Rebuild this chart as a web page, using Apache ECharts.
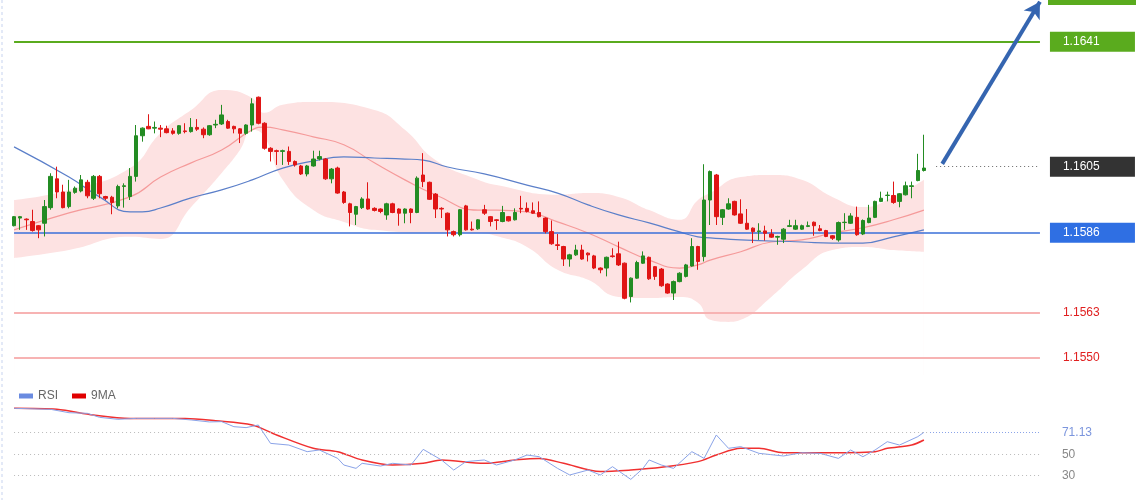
<!DOCTYPE html>
<html><head><meta charset="utf-8">
<script src="https://cdn.jsdelivr.net/npm/echarts@6/dist/echarts.min.js"></script>
<style>html,body{margin:0;padding:0;background:#fff}#c{width:1140px;height:500px}</style>
</head><body><div id="c"></div>
<script>
// candles: [open, close, low, high]
const candles = [
[1.15880,1.15906,1.15878,1.15908],[1.15902,1.15906,1.15868,1.15908],[1.15899,1.15897,1.15868,1.15901],[1.15892,1.15866,1.15863,1.15926],[1.15880,1.15868,1.15844,1.15882],
[1.15887,1.15935,1.15849,1.15954],[1.15932,1.16022,1.15926,1.16031],[1.16015,1.15977,1.15959,1.16050],[1.15977,1.15932,1.15930,1.15998],[1.15935,1.15977,1.15930,1.16012],
[1.15976,1.15988,1.15972,1.15993],[1.15980,1.16012,1.15976,1.16026],[1.16005,1.15966,1.15959,1.16012],[1.15959,1.16022,1.15954,1.16026],[1.16022,1.15972,1.15959,1.16026],
[1.15964,1.15959,1.15954,1.15966],[1.15962,1.15947,1.15913,1.15966],[1.15937,1.15993,1.15930,1.15998],[1.15993,1.15995,1.15932,1.16002],[1.15964,1.16022,1.15954,1.16046],
[1.16022,1.16139,1.16007,1.16170],[1.16139,1.16161,1.16122,1.16163],[1.16166,1.16159,1.16158,1.16201],[1.16161,1.16163,1.16146,1.16180],[1.16161,1.16158,1.16135,1.16170],
[1.16159,1.16148,1.16146,1.16168],[1.16153,1.16146,1.16142,1.16161],[1.16146,1.16168,1.16142,1.16170],[1.16153,1.16151,1.16146,1.16175],[1.16151,1.16163,1.16148,1.16190],
[1.16163,1.16158,1.16153,1.16187],[1.16158,1.16142,1.16132,1.16163],[1.16142,1.16168,1.16139,1.16170],[1.16170,1.16172,1.16161,1.16185],[1.16173,1.16199,1.16170,1.16228],
[1.16180,1.16161,1.16159,1.16185],[1.16166,1.16159,1.16146,1.16168],[1.16159,1.16146,1.16118,1.16161],[1.16146,1.16170,1.16142,1.16172],[1.16170,1.16231,1.16151,1.16247],
[1.16250,1.16175,1.16172,1.16252],[1.16175,1.16103,1.16099,1.16178],[1.16103,1.16094,1.16065,1.16106],[1.16096,1.16094,1.16055,1.16099],[1.16094,1.16096,1.16055,1.16099],
[1.16094,1.16065,1.16055,1.16108],[1.16065,1.16055,1.16050,1.16068],[1.16052,1.16029,1.16026,1.16055],[1.16029,1.16052,1.16022,1.16055],[1.16052,1.16072,1.16050,1.16096],
[1.16072,1.16079,1.16068,1.16096],[1.16072,1.16015,1.16012,1.16075],[1.16015,1.16043,1.16002,1.16046],[1.16046,1.15974,1.15972,1.16050],[1.15977,1.15947,1.15943,1.15980],
[1.15943,1.15918,1.15878,1.15946],[1.15913,1.15935,1.15882,1.15937],[1.15932,1.15957,1.15928,1.15962],[1.15957,1.15928,1.15926,1.16005],[1.15930,1.15924,1.15921,1.15933],
[1.15928,1.15921,1.15916,1.15930],[1.15911,1.15943,1.15897,1.15946],[1.15943,1.15918,1.15916,1.15946],[1.15928,1.15916,1.15880,1.15930],[1.15916,1.15928,1.15887,1.15930],
[1.15928,1.15918,1.15887,1.15930],[1.15918,1.16017,1.15916,1.16022],[1.16026,1.16007,1.15991,1.16089],[1.16005,1.15956,1.15954,1.16007],[1.15971,1.15928,1.15902,1.15974],
[1.15930,1.15928,1.15902,1.15933],[1.15916,1.15868,1.15849,1.15918],[1.15863,1.15854,1.15849,1.15866],[1.15854,1.15926,1.15849,1.15928],[1.15937,1.15868,1.15866,1.15940],
[1.15870,1.15868,1.15866,1.15892],[1.15871,1.15897,1.15868,1.15899],[1.15926,1.15916,1.15911,1.15940],[1.15906,1.15892,1.15878,1.15908],[1.15897,1.15895,1.15868,1.15899],
[1.15892,1.15918,1.15890,1.15937],[1.15906,1.15894,1.15892,1.15908],[1.15897,1.15918,1.15895,1.15930],[1.15930,1.15928,1.15916,1.15966],[1.15930,1.15921,1.15918,1.15947],
[1.15923,1.15916,1.15914,1.15947],[1.15918,1.15906,1.15904,1.15950],[1.15902,1.15863,1.15858,1.15904],[1.15863,1.15828,1.15825,1.15895],[1.15825,1.15823,1.15810,1.15856],
[1.15820,1.15784,1.15764,1.15822],[1.15784,1.15796,1.15762,1.15799],[1.15796,1.15810,1.15793,1.15825],[1.15810,1.15784,1.15782,1.15825],[1.15801,1.15796,1.15777,1.15803],
[1.15793,1.15758,1.15755,1.15796],[1.15758,1.15753,1.15743,1.15760],[1.15758,1.15789,1.15734,1.15791],[1.15793,1.15791,1.15788,1.15815],[1.15799,1.15767,1.15764,1.15834],
[1.15772,1.15671,1.15668,1.15774],[1.15676,1.15729,1.15659,1.15731],[1.15729,1.15774,1.15727,1.15779],[1.15772,1.15793,1.15770,1.15806],[1.15789,1.15727,1.15724,1.15791],
[1.15762,1.15734,1.15724,1.15764],[1.15755,1.15707,1.15704,1.15758],[1.15712,1.15686,1.15684,1.15714],[1.15686,1.15719,1.15666,1.15722],[1.15719,1.15743,1.15717,1.15746],
[1.15734,1.15767,1.15731,1.15770],[1.15764,1.15820,1.15762,1.15844],[1.15820,1.15777,1.15753,1.15822],[1.15791,1.15954,1.15777,1.16057],[1.15954,1.16036,1.15882,1.16039],
[1.16026,1.15906,1.15882,1.16029],[1.15904,1.15926,1.15882,1.15928],[1.15928,1.15943,1.15926,1.15959],[1.15950,1.15911,1.15909,1.15952],[1.15914,1.15887,1.15885,1.15956],
[1.15887,1.15870,1.15868,1.15928],[1.15873,1.15863,1.15830,1.15875],[1.15863,1.15865,1.15839,1.15887],[1.15865,1.15858,1.15837,1.15880],[1.15856,1.15847,1.15845,1.15870],
[1.15847,1.15849,1.15825,1.15851],[1.15841,1.15870,1.15830,1.15873],[1.15878,1.15880,1.15876,1.15897],[1.15870,1.15880,1.15868,1.15897],[1.15870,1.15880,1.15868,1.15883],
[1.15878,1.15880,1.15876,1.15892],[1.15890,1.15880,1.15851,1.15892],[1.15871,1.15866,1.15864,1.15882],[1.15866,1.15849,1.15847,1.15868],[1.15851,1.15844,1.15839,1.15853],
[1.15839,1.15889,1.15834,1.15892],[1.15889,1.15890,1.15868,1.15916],[1.15887,1.15908,1.15885,1.15916],[1.15904,1.15854,1.15851,1.15935],[1.15856,1.15895,1.15853,1.15898],
[1.15889,1.15902,1.15887,1.15940],[1.15904,1.15950,1.15902,1.15952],[1.15950,1.15959,1.15948,1.15978],[1.15967,1.15968,1.15950,1.15978],[1.15967,1.15947,1.15943,1.16007],
[1.15950,1.15972,1.15933,1.15974],[1.15969,1.15995,1.15967,1.16007],[1.15993,1.15995,1.15959,1.16007],[1.16010,1.16039,1.16008,1.16087],[1.16039,1.16046,1.16036,1.16142]
];
const bandUpper = [[0,1.15954],[9,1.15983],[19,1.16046],[24,1.16147],[29,1.16213],[34,1.16271],[39,1.16248],[41,1.16205],[44,1.16228],[49,1.16236],[59,1.16213],[64,1.16156],[69,1.16069],[76,1.16012],[79,1.15997],[89,1.15969],[94,1.15974],[99,1.15963],[104,1.15925],[109,1.15897],[112,1.15954],[114,1.15974],[119,1.16020],[124,1.16026],[129,1.16012],[134,1.15963],[139,1.15934],[144,1.15963],[149,1.16012]];
const bandLower = [[0,1.15787],[9,1.15810],[19,1.15848],[24,1.15842],[29,1.15934],[34,1.16032],[37,1.16098],[39,1.16156],[41,1.16136],[44,1.16012],[49,1.15925],[54,1.15891],[59,1.15868],[69,1.15859],[76,1.15859],[79,1.15850],[84,1.15819],[89,1.15753],[94,1.15724],[99,1.15675],[104,1.15672],[109,1.15675],[112,1.15658],[114,1.15609],[117,1.15603],[119,1.15609],[124,1.15675],[129,1.15753],[134,1.15810],[139,1.15819],[144,1.15810],[149,1.15805]];
const maRed = [[0,1.15868],[9,1.15917],[19,1.15963],[24,1.16020],[29,1.16061],[34,1.16098],[39,1.16156],[41,1.16164],[44,1.16156],[49,1.16136],[54,1.16113],[59,1.16061],[64,1.16012],[69,1.15969],[76,1.15925],[79,1.15925],[84,1.15920],[89,1.15891],[94,1.15859],[99,1.15819],[104,1.15781],[109,1.15758],[112,1.15767],[114,1.15781],[119,1.15805],[124,1.15833],[129,1.15839],[134,1.15859],[139,1.15874],[144,1.15897],[149,1.15925]];
const maBlue = [[0,1.16107],[9,1.16020],[14,1.15963],[19,1.15920],[21,1.15920],[24,1.15931],[29,1.15960],[34,1.15983],[39,1.16012],[44,1.16046],[49,1.16066],[54,1.16078],[59,1.16075],[64,1.16072],[67,1.16069],[71,1.16049],[77,1.16029],[84,1.15997],[89,1.15974],[94,1.15940],[99,1.15911],[104,1.15888],[109,1.15862],[112,1.15848],[114,1.15845],[119,1.15839],[129,1.15833],[134,1.15830],[139,1.15830],[144,1.15848],[149,1.15868]];
const rsi = [[0,94],[6,93],[9,89.8],[12,89.2],[14,85.4],[17,83.5],[20,84.4],[23,84.4],[26,84.4],[29,82.9],[32,81],[34,81.3],[36,76.5],[38,75.6],[40,78.1],[42,60.6],[45,59],[48,52.7],[50,54.3],[53,46.3],[54,40],[56,36.8],[57,41.6],[60,39],[62,41.6],[65,40],[67,54.9],[70,44.8],[72,35.2],[74,43.2],[77,44.8],[79,40],[82,44.8],[84,49.5],[86,47.9],[89,36.8],[91,30.5],[94,35.2],[96,30.5],[98,38.4],[101,26.3],[103,36.8],[104,44.8],[106,40],[108,36.8],[111,52.7],[113,46.3],[115,68.6],[117,55.9],[119,57.5],[122,51.1],[126,48.6],[129,51.7],[132,51.1],[135,46.3],[137,54.3],[139,47.9],[141,54.3],[143,62.2],[145,59],[148,67],[149,71.13]];
const rsiMa = [[0,94],[7,93],[13,87.6],[19,84.4],[28,84.4],[33,82.2],[39,78.1],[43,68.6],[49,55.9],[53,52.7],[57,44.8],[62,40],[67,41.6],[70,44.8],[77,41.6],[82,44.8],[86,46.3],[90,41.6],[96,33.7],[101,35.2],[106,37.8],[112,43.2],[115,49.5],[119,55.9],[122,55.9],[126,51.7],[132,51.7],[141,52.7],[143,55.9],[147,59],[149,63.8]];
const levels = [1.1641, 1.1586, 1.1563, 1.1550];
const lastPrice = 1.1605;
const rsiLast = 71.13;
const rsiTicks = [50, 30];
const categories = Array.from({length:169}, (_, i) => String(i));

const boxLabel = (txt, bg, fg) => ({show:true, position:'end', distance:10, formatter: txt, color:fg, backgroundColor:bg, fontSize:12, fontFamily:'Liberation Sans', width:72, padding:[4,0,4,13], align:'left'});
const rsiLabel = (txt, col) => ({show:true, position:'end', distance:22, formatter:txt, color:col, fontSize:12, fontFamily:'Liberation Sans'});
const hLine = (v, color, width, bg, fg) => [{coord:[0, v], lineStyle:{color, width, type:'solid'}, label:boxLabel(v.toFixed(4), bg, fg)}, {coord:[168, v]}];
const chart = echarts.init(document.getElementById('c'));
chart.setOption({
  animation:false,
  backgroundColor:'#fff',
  grid:[{left:11, width:1032, top:0, height:375},{left:11, width:1032, top:402, height:98}],
  xAxis:[{type:'category', data:categories, gridIndex:0, show:false, boundaryGap:true},
         {type:'category', data:categories, gridIndex:1, show:false, boundaryGap:true}],
  yAxis:[{type:'value', gridIndex:0, min:1.1545, max:1.1653, show:false, splitLine:{show:false}},
         {type:'value', gridIndex:1, min:6.67, max:100, show:false, splitLine:{show:false}}],
  legend:{data:['RSI','9MA'], left:14, top:385, icon:'rect', itemWidth:14, itemHeight:5, itemGap:14, textStyle:{color:'#666', fontSize:12, fontFamily:'Liberation Sans'}},
  graphic:[{type:'rect', shape:{x:1048, y:-20, width:88, height:25}, style:{fill:'#5aab1e'}},
           {type:'line', shape:{x1:2,y1:0,x2:2,y2:500}, style:{stroke:'#c8d4f0', lineDash:[3,3]}}],
  series:[
    {name:'up', type:'line', data:bandUpper, smooth:true, symbol:'none', lineStyle:{width:0}, areaStyle:{color:'#fde2e2', opacity:1, origin:'start'}, z:1, silent:true},
    {name:'lo', type:'line', data:bandLower, smooth:true, symbol:'none', lineStyle:{width:0}, areaStyle:{color:'#ffffff', opacity:1, origin:'start'}, z:1, silent:true},
    {name:'ma20', type:'line', data:maRed, smooth:true, symbol:'none', lineStyle:{color:'#f59a9a', width:1.2}, z:2},
    {name:'ma50', type:'line', data:maBlue, smooth:true, symbol:'none', lineStyle:{color:'#5b7fc9', width:1.2}, z:2,
     markLine:{silent:true, symbol:'none', animation:false, data:[
       hLine(levels[0], '#5aab1e', 2, '#5aab1e', '#fff'),
       hLine(levels[1], '#3a6fd8', 1.5, '#2f6fe3', '#fff'),
       hLine(levels[2], '#f7b3b3', 2, 'transparent', '#e02020'),
       hLine(levels[3], '#f7b3b3', 2, 'transparent', '#e02020'),
       [{coord:[151, lastPrice], lineStyle:{color:'#666', width:1, type:[1,3]}, label:boxLabel(lastPrice.toFixed(4),'#333333','#fff')},{coord:[168, lastPrice]}],
       [{coord:[152, 1.16058], symbol:'none', lineStyle:{color:'#3565b0', width:4, type:'solid'}, label:{show:false}},{coord:[168, 1.16525], symbol:'arrow', symbolSize:[14,16]}]
     ]}},
    {name:'k', type:'candlestick', data:candles, barWidth:4, z:5,
     itemStyle:{color:'#238c23', color0:'#e01515', borderColor:'#238c23', borderColor0:'#e01515', borderWidth:1}},
    {name:'RSI', type:'line', xAxisIndex:1, yAxisIndex:1, data:rsi, symbol:'none', lineStyle:{color:'#8aa3e8', width:1}, itemStyle:{color:'#6a8be0'}, z:4,
     markLine:{silent:true, symbol:'none', data:[
       [{coord:[0, rsiTicks[0]], lineStyle:{color:'#bbb', type:[1,3], width:1}, label:rsiLabel(String(rsiTicks[0]),'#888')},{coord:[168, rsiTicks[0]]}],
       [{coord:[0, rsiTicks[1]], lineStyle:{color:'#bbb', type:[1,3], width:1}, label:rsiLabel(String(rsiTicks[1]),'#888')},{coord:[168, rsiTicks[1]]}],
       [{coord:[0, rsiLast], lineStyle:{color:'#bbb', type:[1,3], width:1}, label:{show:false}},{coord:[150, rsiLast]}],
       [{coord:[150, rsiLast], lineStyle:{color:'#8aa3e8', type:[1,2], width:1}, label:rsiLabel(rsiLast.toFixed(2),'#7b95dd')},{coord:[168, rsiLast]}]
     ]}},
    {name:'9MA', type:'line', xAxisIndex:1, yAxisIndex:1, data:rsiMa, smooth:0.3, symbol:'none', lineStyle:{color:'#f03030', width:1.5}, itemStyle:{color:'#e00000'}, z:3}
  ]
});
</script></body></html>
